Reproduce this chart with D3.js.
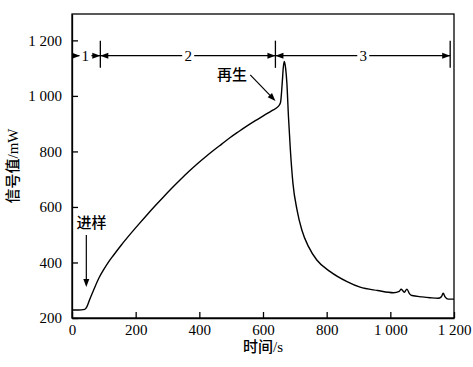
<!DOCTYPE html>
<html>
<head>
<meta charset="utf-8">
<script src="https://cdn.jsdelivr.net/npm/d3@7"></script>
<style>
  body { margin: 0; background: #fff; }
  svg text { font-family: "Liberation Serif", "Noto Sans CJK SC", serif; font-size: 15px; fill: #000; }
  .cjk { font-family: "Liberation Serif", "Noto Sans CJK SC", serif; font-weight: 500; }
</style>
</head>
<body>
<svg id="chart"></svg>
<script>
// signal trace: time (s) and value (mW)
let times = [0, 20, 40, 47, 55, 68, 85, 99, 115, 131, 155, 183, 210, 236, 262, 288, 314, 340, 366, 393, 419, 445, 471, 497, 523, 550, 576, 602, 628, 648, 655, 660, 664, 667, 671, 675, 680, 686, 694, 707, 722, 743, 769, 811, 864, 905, 960, 1010, 1028, 1034, 1040, 1044, 1052, 1060, 1068, 1100, 1125, 1150, 1160, 1166, 1172, 1182, 1200]
let values = [229, 229, 231, 241, 265, 301, 345, 373, 402, 427, 463, 502, 538, 572, 605, 637, 668, 698, 727, 755, 780, 804, 827, 850, 871, 892, 911, 929, 947, 962, 976, 1040, 1105, 1124, 1100, 1046, 925, 805, 686, 589, 517, 457, 409, 367, 331, 311, 299, 291, 296, 304, 297, 293, 304, 288, 281, 276, 273, 271, 276, 289, 276, 268, 268]

let xTicks = [0, 200, 400, 600, 800, 1000, 1200]
let yTicks = [200, 400, 600, 800, 1000, 1200]

// stage markers along the top
let stageBounds = [0, 89, 639, 1188]
let stageNames = ["1", "2", "3"]
let stageLabelAt = [42, 365, 915]
let stageLevel = 1145

let labels = { x: "时间/s", y: "信号值/mW", inject: "进样", regen: "再生" }

let width = 473
let height = 367
let margin = { top: 14, right: 19, bottom: 49, left: 72 }

let svg = d3.select("#chart").attr("width", width).attr("height", height)

let X = d3.scaleLinear().domain([0, 1200]).range([margin.left, width - margin.right])
let Y = d3.scaleLinear().domain([200, 1295]).range([height - margin.bottom, margin.top])

let fmt = d3.formatLocale({ decimal: ".", thousands: " ", grouping: [3], currency: ["", ""] }).format(",")

// frame
svg.append("rect")
   .attr("x", X(0)).attr("y", Y(1295))
   .attr("width", X(1200) - X(0)).attr("height", Y(200) - Y(1295))
   .attr("fill", "none").attr("stroke", "#000").attr("stroke-width", 1.3)

// axes, ticks pointing inward
let xaxis = d3.axisBottom(X).tickValues(xTicks).tickFormat(fmt).tickSizeInner(-6).tickSizeOuter(0).tickPadding(6)
let gx = svg.append("g").attr("transform", "translate(0," + Y(200) + ")").call(xaxis)

let yaxis = d3.axisLeft(Y).tickValues(yTicks).tickFormat(fmt).tickSizeInner(-6).tickSizeOuter(0).tickPadding(10)
let gy = svg.append("g").attr("transform", "translate(" + X(0) + ",0)").call(yaxis)

for (let g of [gx, gy]) {
    g.select(".domain").attr("stroke-width", 1.3)
    g.selectAll(".tick line").attr("stroke-width", 1.3)
    g.selectAll("text").attr("font-size", 15).attr("font-family", "Liberation Serif, serif")
}

// axis titles
svg.append("text").attr("class", "cjk")
   .attr("x", (X(0) + X(1200)) / 2).attr("y", 352)
   .style("text-anchor", "middle").text(labels.x)

svg.append("text").attr("class", "cjk")
   .attr("transform", "rotate(-90)")
   .attr("x", -(Y(200) + Y(1295)) / 2).attr("y", 18)
   .style("text-anchor", "middle").text(labels.y)

// curve
let data = times.map((t, i) => [t, values[i]])
let line = d3.line().x(d => X(d[0])).y(d => Y(d[1])).curve(d3.curveMonotoneX)
svg.append("path")
   .attr("fill", "none").attr("stroke", "#000")
   .attr("stroke-width", 1.4).attr("stroke-linejoin", "round")
   .attr("d", line(data))

// arrowheads
function arrowHead(x, y, angle) {
    let len = 8, half = 3
    svg.append("path")
       .attr("d", "M0,0 L" + (-len) + "," + (-half) + " L" + (-len) + "," + half + " Z")
       .attr("transform", "translate(" + x + "," + y + ") rotate(" + angle + ")")
       .attr("fill", "#000")
}

// stage dimension lines
let sy = Y(stageLevel)
stageNames.forEach((name, i) => {
    let x0 = X(stageBounds[i]), x1 = X(stageBounds[i + 1])
    let lx = X(stageLabelAt[i])
    svg.append("line").attr("x1", x0).attr("x2", lx - 6).attr("y1", sy).attr("y2", sy)
       .attr("stroke", "#000").attr("stroke-width", 1.2)
    svg.append("line").attr("x1", lx + 6).attr("x2", x1).attr("y1", sy).attr("y2", sy)
       .attr("stroke", "#000").attr("stroke-width", 1.2)
    svg.append("text").attr("x", lx).attr("y", sy + 5)
       .style("text-anchor", "middle").text(name)
    if (i === 0) {
        arrowHead(x0 + 8, sy, 0)
    } else {
        arrowHead(x0, sy, 180)
    }
    arrowHead(x1, sy, 0)
})
stageBounds.slice(1).forEach(b => {
    svg.append("line").attr("x1", X(b)).attr("x2", X(b))
       .attr("y1", Y(stageLevel + 54)).attr("y2", Y(stageLevel - 44))
       .attr("stroke", "#000").attr("stroke-width", 1.3)
})

// 进样 marker
svg.append("text").attr("class", "cjk")
   .attr("x", X(61)).attr("y", Y(542) + 5)
   .style("text-anchor", "middle").text(labels.inject)
svg.append("line").attr("x1", X(45)).attr("x2", X(45)).attr("y1", Y(499)).attr("y2", Y(320))
   .attr("stroke", "#000").attr("stroke-width", 1.2)
arrowHead(X(45), Y(312), 90)

// 再生 marker
svg.append("text").attr("class", "cjk")
   .attr("x", X(503)).attr("y", Y(1076) + 5)
   .style("text-anchor", "middle").text(labels.regen)
let ax0 = X(560), ay0 = Y(1076), ax1 = X(639), ay1 = Y(982)
let ang = Math.atan2(ay1 - ay0, ax1 - ax0) * 180 / Math.PI
svg.append("line").attr("x1", ax0).attr("y1", ay0)
   .attr("x2", ax1 - 6 * Math.cos(ang * Math.PI / 180)).attr("y2", ay1 - 6 * Math.sin(ang * Math.PI / 180))
   .attr("stroke", "#000").attr("stroke-width", 1.2)
arrowHead(ax1, ay1, ang)
</script>
</body>
</html>
